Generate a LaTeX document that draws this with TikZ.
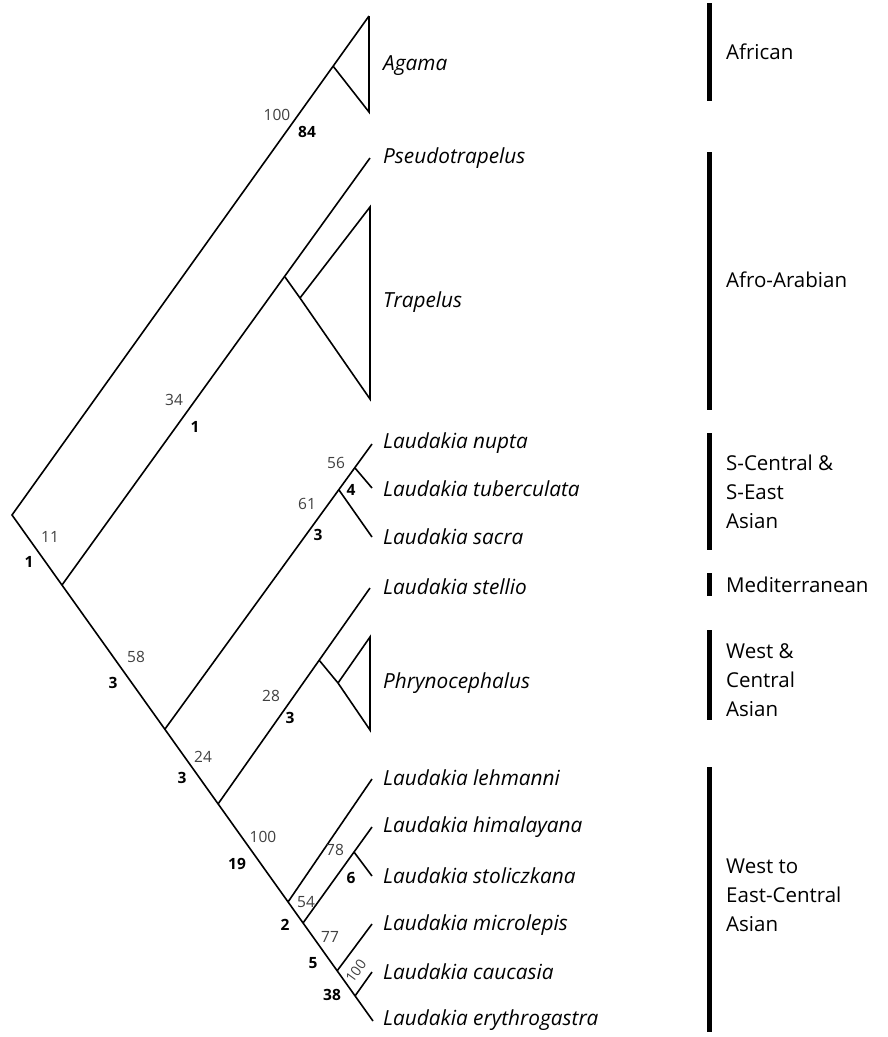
\documentclass[tikz,border=0pt]{standalone}
\usepackage{fontspec}
\setmainfont{Open Sans}
\begin{document}
\begin{tikzpicture}[x=1pt,y=-1pt,
  branch/.style={line width=1.6pt,line join=miter},
  taxon/.style={anchor=west,inner sep=0pt,font=\fontsize{20.8}{24}\selectfont\itshape},
  region/.style={anchor=west,inner sep=0pt,align=left,font=\fontsize{20.5}{29}\selectfont},
  sup/.style={inner sep=0pt,text=black!75,font=\fontsize{15.5}{18}\selectfont},
  bsup/.style={inner sep=0pt,font=\fontsize{15.5}{18}\selectfont\bfseries},
  bar/.style={line width=5pt}]
\useasboundingbox[fill=white] (0,0) rectangle (888,1037);
% trunk
\coordinate (R) at (12,515);
\coordinate (n1) at (62,585);
\coordinate (n2) at (165,729);
\coordinate (n3) at (218,804);
\coordinate (n4) at (288,902);
\coordinate (n5) at (303,923);
\coordinate (n6) at (337,971);
\coordinate (n7) at (355,996);
\coordinate (tEry) at (373,1021);
% Agama
\coordinate (A) at (333,66);
\coordinate (At) at (369,16);
\coordinate (Ab) at (369,112);
% Pseudotrapelus / Trapelus
\coordinate (tPse) at (370,158);
\coordinate (T) at (285,277);
\coordinate (Ta) at (300,298);
\coordinate (Tt) at (370,207);
\coordinate (Tb) at (370,399);
% nupta clade
\coordinate (S) at (339,490);
\coordinate (NT) at (355,468);
\coordinate (tNup) at (372,444);
\coordinate (tTub) at (372,488);
\coordinate (tSac) at (372,537);
% stellio / Phrynocephalus
\coordinate (Ph) at (319,660);
\coordinate (tSte) at (370,588);
\coordinate (Pa) at (338,683);
\coordinate (Pt) at (370,637);
\coordinate (Pb) at (370,730);
% lehmanni etc.
\coordinate (tLeh) at (372,779);
\coordinate (HS) at (354,852);
\coordinate (tHim) at (372,827);
\coordinate (tSto) at (372,876);
\coordinate (tMic) at (372,924);
\coordinate (tCau) at (372,972);

\draw[branch] (At) -- (R) -- (tEry);
\draw[branch] (At) -- (Ab) -- (A);
\draw[branch] (n1) -- (tPse);
\draw[branch] (T) -- (Ta) -- (Tt) -- (Tb) -- (Ta);
\draw[branch] (n2) -- (tNup);
\draw[branch] (NT) -- (tTub);
\draw[branch] (S) -- (tSac);
\draw[branch] (n3) -- (tSte);
\draw[branch] (Ph) -- (Pa) -- (Pt) -- (Pb) -- (Pa);
\draw[branch] (n4) -- (tLeh);
\draw[branch] (n5) -- (tHim);
\draw[branch] (HS) -- (tSto);
\draw[branch] (n6) -- (tMic);
\draw[branch] (n7) -- (tCau);

% taxon labels
\node[taxon] (lAga) at (383,66) {Agama};
\node[taxon] (lPse) at (383,158) {Pseudotrapelus};
\node[taxon] (lTra) at (383,302) {Trapelus};
\node[taxon] (lNup) at (383,443) {Laudakia nupta};
\node[taxon] (lTub) at (383,489) {Laudakia tuberculata};
\node[taxon] (lSac) at (383,537) {Laudakia sacra};
\node[taxon] (lSte) at (383,587) {Laudakia stellio};
\node[taxon] (lPhr) at (383,683) {Phrynocephalus};
\node[taxon] (lLeh) at (383,778) {Laudakia lehmanni};
\node[taxon] (lHim) at (383,827) {Laudakia himalayana};
\node[taxon] (lSto) at (383,876) {Laudakia stoliczkana};
\node[taxon] (lMic) at (383,925) {Laudakia microlepis};
\node[taxon] (lCau) at (383,972) {Laudakia caucasia};
\node[taxon] (lEry) at (383,1020) {Laudakia erythrogastra};

% support values
\node[sup] (s1) at (277,115) {100};
\node[bsup] (b1) at (307,132) {84};
\node[sup] (s2) at (174,400) {34};
\node[bsup] (b2) at (195,427) {1};
\node[sup] (s3) at (50,537) {11};
\node[bsup] (b3) at (29,562) {1};
\node[sup] (s4) at (136,657) {58};
\node[bsup] (b4) at (113,683) {3};
\node[sup] (s5) at (336,463) {56};
\node[bsup] (b5) at (351,490) {4};
\node[sup] (s6) at (307,504) {61};
\node[bsup] (b6) at (318,535) {3};
\node[sup] (s7) at (271,696) {28};
\node[bsup] (b7) at (290,718) {3};
\node[sup] (s8) at (203,757) {24};
\node[bsup] (b8) at (182,778) {3};
\node[sup] (s9) at (263,837) {100};
\node[bsup] (b9) at (237,864) {19};
\node[sup] (s10) at (335,850) {78};
\node[bsup] (b10) at (351,878) {6};
\node[sup] (s11) at (306,902) {54};
\node[bsup] (b11) at (285,925) {2};
\node[sup] (s12) at (330,937) {77};
\node[bsup] (b12) at (313,963) {5};
\node[sup,rotate=54,font=\fontsize{14}{16}\selectfont] (s13) at (356,971) {100};
\node[bsup] (b13) at (332,995) {38};

% region bars
\draw[bar] (709,3) -- (709,101);
\draw[bar] (709,152) -- (709,410);
\draw[bar] (709,433) -- (709,550);
\draw[bar] (709,573) -- (709,596);
\draw[bar] (709,630) -- (709,720);
\draw[bar] (709,767) -- (709,1032);
\node[region] (gAfr) at (726,52) {African};
\node[region] (gAA) at (726,280) {Afro-Arabian};
\node[region] (gSC) at (726,492) {S-Central \&\\S-East\\Asian};
\node[region] (gMed) at (726,585) {Mediterranean};
\node[region] (gWC) at (726,680) {West \&\\Central\\Asian};
\node[region] (gWE) at (726,895) {West to\\East-Central\\Asian};
\end{tikzpicture}
\end{document}
